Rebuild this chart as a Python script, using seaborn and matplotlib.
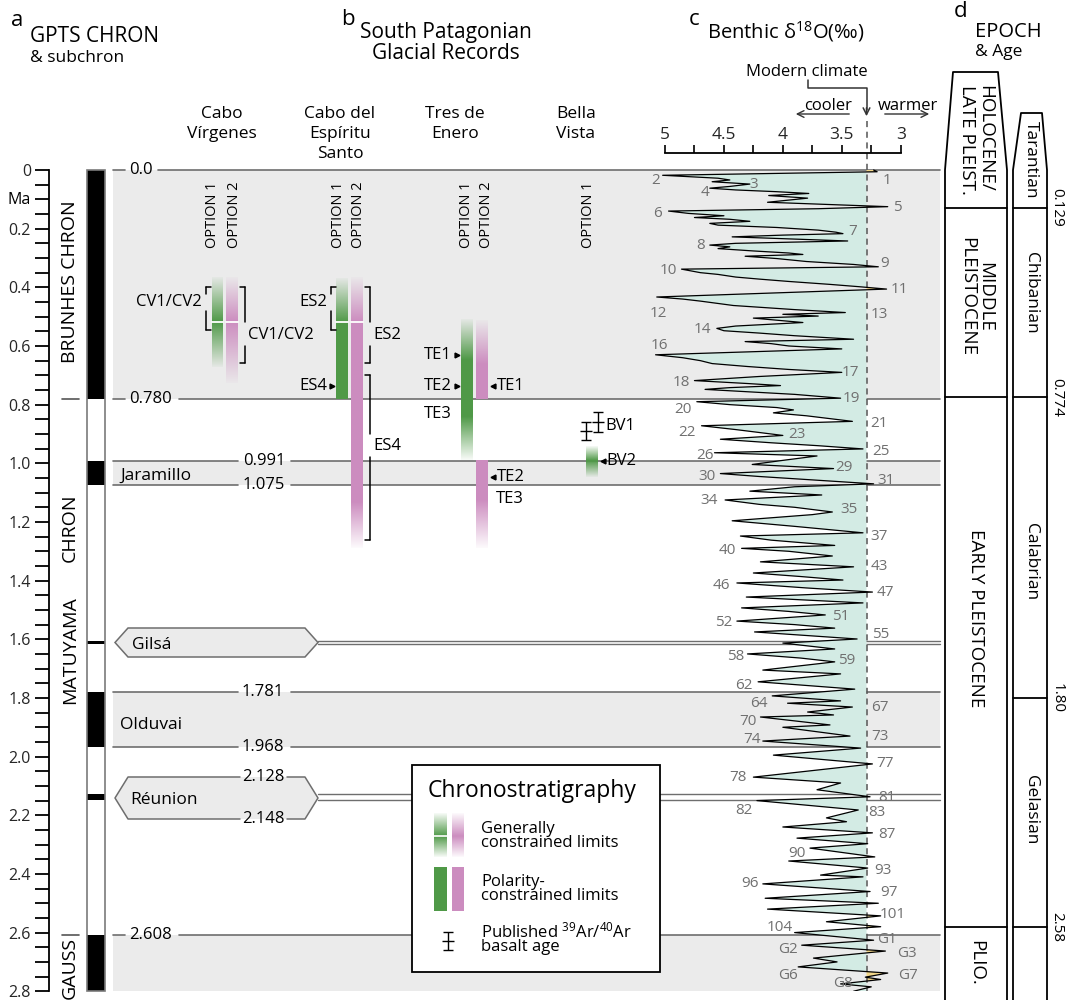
import numpy as np
import pandas as pd
import matplotlib
matplotlib.use("Agg")
import matplotlib.pyplot as plt
import seaborn as sns
from matplotlib.patches import Polygon, Rectangle

# ------------------------------------------------------------------ DATA
# (a) GPTS normal-polarity intervals (Ma)
normal_start = [0.000, 0.991, 1.606, 1.781, 2.128, 2.608]
normal_end = [0.780, 1.075, 1.616, 1.968, 2.148, 2.800]
# grey bands (normal polarity chrons / subchrons)
band_start = [0.000, 0.991, 1.781, 2.608]
band_end = [0.780, 1.075, 1.968, 2.800]
boundary_ages = [0.0, 0.780, 0.991, 1.075, 1.781, 1.968, 2.608]
boundary_labels = ["0.0", "0.780", "0.991", "1.075", "1.781", "1.968", "2.608"]
subchron_names = ["Jaramillo", "Gilsá", "Olduvai", "Réunion"]

# (b) South Patagonian glacial records
sites = ["Cabo\nVírgenes", "Cabo del\nEspíritu\nSanto", "Tres de\nEnero", "Bella\nVista"]
bar_site = [0, 0, 1, 1, 2, 2, 2, 3]
bar_option = [1, 2, 1, 2, 1, 2, 2, 1]
bar_top = [0.368, 0.368, 0.368, 0.368, 0.511, 0.511, 0.990, 0.944]
bar_solid_top = [0.518, 0.518, 0.518, 0.518, 0.648, 0.660, 0.990, 0.992]
bar_solid_bot = [0.518, 0.518, 0.780, 1.135, 0.842, 0.780, 1.125, 0.992]
bar_bottom = [0.672, 0.726, 0.780, 1.290, 0.989, 0.780, 1.290, 1.047]
bar_divider = [0.518, 0.518, 0.518, 0.518, None, None, None, None]
bv1_age = [0.890, 0.859]
bv1_err = [0.031, 0.034]

# (c) benthic d18O stack (age Ma, permil)
curve_age = [0.000, 0.006, 0.018, 0.028, 0.034, 0.040, 0.048, 0.056, 0.062, 0.068,
             0.074, 0.080, 0.087, 0.096, 0.110, 0.125, 0.132, 0.140, 0.148, 0.156,
             0.162, 0.168, 0.175, 0.182, 0.188, 0.196, 0.205, 0.212, 0.217, 0.222,
             0.228, 0.234, 0.242, 0.250, 0.256, 0.262, 0.268, 0.276, 0.283, 0.288,
             0.294, 0.302, 0.312, 0.322, 0.330, 0.338, 0.350, 0.356, 0.365, 0.372,
             0.380, 0.390, 0.398, 0.406, 0.433, 0.440, 0.447, 0.455, 0.462,
             0.468, 0.476, 0.486, 0.492, 0.498, 0.505, 0.512, 0.520, 0.532, 0.540,
             0.548, 0.556, 0.565, 0.577, 0.585, 0.592, 0.600, 0.610, 0.630, 0.640,
             0.650, 0.660, 0.670, 0.680, 0.690, 0.704, 0.718, 0.728, 0.735, 0.742,
             0.748, 0.756, 0.765, 0.778, 0.790, 0.800, 0.810, 0.818, 0.828, 0.838,
             0.857, 0.872, 0.885, 0.895, 0.905, 0.918, 0.930, 0.940, 0.951, 0.964,
             0.975, 0.990, 1.004, 1.018, 1.035, 1.045, 1.058, 1.070, 1.080, 1.095,
             1.108, 1.125, 1.140, 1.150, 1.166, 1.175, 1.196, 1.215, 1.237, 1.248,
             1.262, 1.280, 1.290, 1.300, 1.316, 1.336, 1.353, 1.374, 1.386, 1.398,
             1.408, 1.425, 1.439, 1.456, 1.476, 1.493, 1.505, 1.517, 1.538, 1.550,
             1.562, 1.575, 1.599, 1.613, 1.633, 1.650, 1.664, 1.677, 1.705, 1.718,
             1.745, 1.770, 1.793, 1.810, 1.818, 1.831, 1.848, 1.858, 1.865, 1.892,
             1.900, 1.930, 1.947, 1.971, 1.995, 2.025, 2.070, 2.090, 2.113, 2.137,
             2.150, 2.182, 2.209, 2.222, 2.240, 2.260, 2.278, 2.297, 2.312, 2.342,
             2.356, 2.380, 2.404, 2.410, 2.434, 2.460, 2.483, 2.500, 2.520, 2.543,
             2.563, 2.580, 2.600, 2.626, 2.643, 2.663, 2.687, 2.700, 2.717, 2.738,
             2.752, 2.760, 2.775, 2.785, 2.800]
curve_d18o = [3.23, 3.20, 5.02, 4.55, 4.45, 4.60, 4.28, 4.45, 4.62, 4.40,
              4.05, 3.78, 4.12, 3.79, 4.13, 3.11, 3.70, 4.97, 4.80, 4.50,
              4.75, 4.45, 4.28, 4.62, 4.55, 4.05, 3.70, 3.55, 3.49, 4.00,
              4.43, 4.00, 3.45, 4.40, 4.62, 4.45, 4.55, 4.25, 3.95, 3.83,
              4.32, 4.05, 3.80, 3.40, 3.19, 4.86, 4.70, 4.55, 4.40, 4.20,
              3.95, 3.60, 3.35, 3.12, 5.07, 4.85, 4.70, 4.55, 4.42,
              4.20, 3.90, 3.47, 4.00, 3.70, 4.25, 4.05, 3.83, 4.40, 4.56,
              4.50, 4.20, 3.90, 3.40, 4.32, 4.10, 3.95, 3.50, 5.08, 4.85,
              4.70, 4.60, 4.30, 3.95, 3.50, 4.20, 4.75, 4.30, 4.02, 4.45,
              4.66, 4.30, 3.90, 3.51, 4.73, 4.45, 4.05, 3.91, 4.08, 3.80,
              3.41, 4.69, 4.40, 4.20, 4.00, 4.53, 4.10, 3.70, 3.32, 4.58,
              3.71, 4.00, 4.26, 3.57, 4.53, 4.20, 3.70, 3.23, 3.90, 4.28,
              3.67, 4.49, 4.20, 3.90, 3.58, 3.75, 4.43, 3.90, 3.32, 4.36,
              4.10, 3.56, 4.35, 3.95, 3.58, 4.19, 3.40, 4.25, 3.85, 3.49,
              4.39, 3.80, 3.24, 4.31, 3.32, 4.35, 3.95, 3.64, 4.39, 3.90,
              3.56, 4.24, 3.37, 4.00, 3.56, 4.30, 3.85, 3.56, 4.17, 3.51,
              4.21, 3.39, 4.09, 3.51, 3.96, 3.41, 3.79, 3.57, 4.19, 3.60,
              4.00, 3.43, 4.17, 3.34, 4.08, 3.24, 4.25, 3.51, 3.71, 3.26,
              4.22, 3.36, 3.63, 3.46, 4.00, 3.24, 3.88, 3.28, 3.77, 3.22,
              3.95, 3.28, 3.68, 3.32, 4.17, 3.26, 4.15, 3.19, 4.13, 3.17,
              3.63, 3.17, 3.90, 3.23, 3.84, 3.13, 3.74, 3.54, 3.87, 3.11,
              3.30, 3.17, 3.51, 3.25, 3.40]
modern_d18o = 3.29
mis_text = ["1", "2", "3", "4", "5", "6", "7", "8", "9", "10", "11", "12", "13", "14",
            "16", "17", "18", "19", "20", "21", "22", "23", "25", "26", "29", "30", "31",
            "34", "35", "37", "40", "43", "46", "47", "51", "52", "55", "58", "59", "62",
            "64", "67", "70", "73", "74", "77", "78", "81", "82", "83", "87", "90", "93",
            "96", "97", "101", "104", "G1", "G2", "G3", "G6", "G7", "G8"]
mis_lab_d = [3.12, 5.08, 4.25, 4.66, 3.03, 5.06, 3.41, 4.70, 3.14, 4.97, 3.01, 5.06, 3.18, 4.68,
             5.05, 3.43, 4.86, 3.42, 4.85, 3.18, 4.81, 3.88, 3.17, 4.66, 3.48, 4.64, 3.12,
             4.63, 3.44, 3.18, 4.47, 3.18, 4.52, 3.13, 3.51, 4.50, 3.17, 4.40, 3.46, 4.33,
             4.20, 3.18, 4.30, 3.18, 4.26, 3.13, 4.38, 3.12, 4.33, 3.20, 3.12, 3.88, 3.15,
             4.28, 3.10, 3.07, 4.03, 3.12, 3.96, 2.95, 3.96, 2.94, 3.49]
mis_lab_age = [0.037, 0.037, 0.051, 0.078, 0.129, 0.150, 0.208, 0.259, 0.320, 0.341, 0.406, 0.488, 0.491, 0.545,
               0.597, 0.692, 0.725, 0.778, 0.818, 0.863, 0.896, 0.903, 0.961, 0.972, 1.016, 1.046, 1.060,
               1.128, 1.159, 1.248, 1.298, 1.353, 1.418, 1.439, 1.524, 1.544, 1.585, 1.660, 1.674, 1.756,
               1.820, 1.831, 1.879, 1.933, 1.940, 2.025, 2.070, 2.141, 2.185, 2.192, 2.267, 2.329, 2.390,
               2.434, 2.465, 2.540, 2.581, 2.625, 2.659, 2.673, 2.748, 2.748, 2.772]

# (d) epochs & ages
epoch_bounds = [0.129, 0.774, 2.58]
stage_bounds = [0.129, 0.774, 1.80, 2.58]
stage_bound_labels = ["0.129", "0.774", "1.80", "2.58"]
epoch_names = ["HOLOCENE/\nLATE PLEIST.", "MIDDLE\nPLEISTOCENE", "EARLY PLEISTOCENE", "PLIO."]
stage_names = ["Tarantian", "Chibanian", "Calabrian", "Gelasian"]

# ------------------------------------------------------------------ STYLE / LAYOUT
sns.set_theme(style="white")
plt.rcParams["font.family"] = ["Open Sans", "DejaVu Sans"]
plt.rcParams["mathtext.fontset"] = "custom"
plt.rcParams["mathtext.rm"] = "Open Sans"
plt.rcParams["mathtext.it"] = "Open Sans"
plt.rcParams["mathtext.bf"] = "Open Sans"
plt.rcParams["text.color"] = "black"

W, H = 1070, 1000
Y0, PXMA = 170.0, 293.3
GREEN = (0.31, 0.60, 0.28)
PINK = (0.80, 0.55, 0.75)
BAND = "#ebebeb"
LINEC = "#6e6e6e"
TEAL = "#d3ebe4"
YEL = "#f1d689"


def A(py):
    return (py - Y0) / PXMA


def dpx(px):
    return 5 - (px - 665) / 117.85


fig = plt.figure(figsize=(W / 100, H / 100), dpi=100)
ax = fig.add_axes([0, 0, 1, 1])
ax.axis("off")


def T(x, py, s, size=12, ha="left", va="baseline", **kw):
    return ax.text(x, A(py), s, fontsize=size, ha=ha, va=va, **kw)


# ---------------- headers
T(11, 26, "a", 16)
T(30, 42, "GPTS CHRON", 15)
T(30, 62, "& subchron", 12.5)
T(341, 25, "b", 16)
T(446, 38, "South Patagonian", 15, ha="center")
T(446, 59, "Glacial Records", 15, ha="center")
T(689, 25, "c", 16)
T(707, 38, r"Benthic δ$^{18}$O(‰)", 14.5)
T(954, 17, "d", 16)
T(975, 37, "EPOCH", 14.5)
T(975, 56, "& Age", 12.5)

# site headers
site_x = [222, 340, 455, 576]
for sx, name in zip(site_x, sites):
    for i, line in enumerate(name.split("\n")):
        T(sx, 118 + 20 * i, line, 12.5, ha="center")

# option labels
opt_x = {(0, 1): 213, (0, 2): 234, (1, 1): 338, (1, 2): 358,
         (2, 1): 467, (2, 2): 487, (3, 1): 589}
for (s, o), xx in opt_x.items():
    T(xx, 215, f"OPTION {o}", 10.5, ha="center", va="center", rotation=90)

# ---------------- grey bands and boundary lines
for s, e in zip(band_start, band_end):
    ax.fill_between([113, 940], s, e, color=BAND, lw=0, zorder=0)

blab_x = [141, 151, 264, 264, 263, 263, 151]
blab_gap = [(125, 158), (125, 179), (238, 291), (238, 291), (238, 291), (238, 291), (125, 179)]
for age, lab, lx, (g0, g1) in zip(boundary_ages, boundary_labels, blab_x, blab_gap):
    ax.plot([113, g0], [age, age], color=LINEC, lw=1.2, zorder=1)
    ax.plot([g1, 940], [age, age], color=LINEC, lw=1.2, zorder=1)
    ax.text(lx, age, lab, fontsize=12, ha="center", va="center", zorder=2)


# hexagon label boxes for short subchrons
def hexagon(ptop, pbot, gap_labels=None):
    pm = (ptop + pbot) / 2
    pts = [(115, A(pm)), (128, A(ptop)), (305, A(ptop)), (318, A(pm)),
           (305, A(pbot)), (128, A(pbot))]
    ax.add_patch(Polygon(pts, closed=True, fc=BAND, ec="none", zorder=1))
    if gap_labels is None:
        ax.add_patch(Polygon(pts, closed=True, fill=False, ec=LINEC, lw=1.1, zorder=2))
    else:
        top_lab, bot_lab = gap_labels
        ax.plot([240, 128, 115, 128, 240], [A(ptop), A(ptop), A(pm), A(pbot), A(pbot)],
                color=LINEC, lw=1.1, zorder=2)
        ax.plot([287, 305, 318, 305, 287], [A(ptop), A(ptop), A(pm), A(pbot), A(pbot)],
                color=LINEC, lw=1.1, zorder=2)
        ax.text(263, A(ptop), top_lab, fontsize=12, ha="center", va="center", zorder=3)
        ax.text(263, A(pbot), bot_lab, fontsize=12, ha="center", va="center", zorder=3)


hexagon(628, 657)
hexagon(777, 819, ("2.128", "2.148"))
for i in (2, 4):
    for a in (normal_start[i], normal_end[i]):
        ax.plot([318, 940], [a, a], color=LINEC, lw=1.0, zorder=1)

T(120, 476, subchron_names[0], 12.5, va="center")
T(132, 645, subchron_names[1], 12.5, va="center")
T(120, 725, subchron_names[2], 12.5, va="center")
T(130, 800, subchron_names[3], 12.5, va="center")

# ---------------- polarity column
ax.bar([96] * len(normal_start), np.subtract(normal_end, normal_start),
       bottom=normal_start, width=18, color="black", lw=0, zorder=3)
ax.add_patch(Rectangle((87, 0), 18, 2.8, fill=False, ec="#7a7a7a", lw=1.2, zorder=4))
T(70, 282, "BRUNHES CHRON", 14, ha="center", va="center", rotation=90)
T(70, 528, "CHRON", 14, ha="center", va="center", rotation=90)
T(70, 650, "MATUYAMA", 14, ha="center", va="center", rotation=90)
T(70, 968, "GAUSS", 14, ha="center", va="center", rotation=90)
for a in (0.780, 2.608):
    ax.plot([62, 79], [a, a], color="#555555", lw=1.2)

# left age axis
axl = fig.add_axes([49 / W, 0, 0.0005, 1])
axl.set_ylim(A(H), A(0))
axl.patch.set_alpha(0)
for sp in ("top", "right", "bottom"):
    axl.spines[sp].set_visible(False)
axl.spines["left"].set_bounds(0, 2.8)
axl.spines["left"].set_color("black")
axl.spines["left"].set_linewidth(1.3)
maj = np.round(np.arange(0, 2.81, 0.2), 2)
axl.set_yticks(maj)
axl.set_yticklabels(["0" if v == 0 else f"{v:.1f}" for v in maj])
axl.set_yticks(np.round(np.arange(0, 2.81, 0.05), 2), minor=True)
axl.set_xticks([])
axl.tick_params(axis="y", which="both", direction="out", length=10, width=1.3,
                color="black", pad=3, labelsize=11.5, left=True)
T(31, 200, "Ma", 11.5, ha="right", va="center")


# ---------------- panel b bars
def grad_bar(x0, x1, top, stop, sbot, bottom, color, a_end=0.04, z=4):
    ys = np.linspace(top, bottom, 400)
    alpha = np.ones_like(ys)
    if stop > top:
        m = ys < stop
        alpha[m] = a_end + (1 - a_end) * (ys[m] - top) / (stop - top)
    if bottom > sbot:
        m = ys > sbot
        alpha[m] = 1 - (1 - a_end) * (ys[m] - sbot) / (bottom - sbot)
    img = np.zeros((len(ys), 1, 4))
    img[..., :3] = color
    img[:, 0, 3] = alpha
    ax.imshow(img, extent=(x0, x1, bottom, top), aspect="auto", origin="upper",
              interpolation="bilinear", zorder=z)


bar_x = {(0, 1): (212, 223), (0, 2): (226, 238), (1, 1): (336, 348), (1, 2): (351, 363),
         (2, 1): (461, 473), (2, 2): (476, 488), (3, 1): (586, 598)}
for s, o, t, st, sb, b, dv in zip(bar_site, bar_option, bar_top, bar_solid_top,
                                  bar_solid_bot, bar_bottom, bar_divider):
    x0, x1 = bar_x[(s, o)]
    grad_bar(x0, x1, t, st, sb, b, GREEN if o == 1 else PINK)
    if dv is not None:
        ax.plot([x0, x1], [dv, dv], color="white", lw=1.3, zorder=5)

ax.errorbar([586, 598], bv1_age, yerr=bv1_err, fmt="_", ms=8, capsize=3.5,
            color="black", lw=1.0, capthick=1.0, zorder=6)


def bracket(x, ptop, pbot, side, gap=None):
    c = 5 if side == "left" else -5
    segs = [(ptop, pbot)] if gap is None else [(ptop, gap[0]), (gap[1], pbot)]
    for a, b in segs:
        ax.plot([x, x], [A(a), A(b)], color="black", lw=1.1, zorder=5)
    ax.plot([x, x + c], [A(ptop), A(ptop)], color="black", lw=1.1, zorder=5)
    ax.plot([x, x + c], [A(pbot), A(pbot)], color="black", lw=1.1, zorder=5)


bracket(206, 287, 330, "left", (294, 311))
bracket(245, 287, 363, "right", (322, 346))
bracket(331, 287, 330, "left", (294, 311))
bracket(370, 287, 363, "right", (322, 346))
bracket(370, 375, 540, "right", (434, 457))

b_labels = [("CV1/CV2", 202, 302, "right", None), ("CV1/CV2", 248, 335, "left", None),
            ("ES2", 327, 302, "right", None), ("ES2", 373, 335, "left", None),
            ("ES4", 327, 386, "right", (332, ">")), ("ES4", 373, 446, "left", None),
            ("TE1", 452, 355, "right", (457, ">")), ("TE2", 452, 386, "right", (457, ">")),
            ("TE3", 452, 414, "right", None), ("TE1", 497, 386, "left", (493, "<")),
            ("TE2", 497, 477, "left", (493, "<")), ("TE3", 496, 499, "left", None),
            ("BV1", 605, 426, "left", None), ("BV2", 606, 461, "left", (603, "<"))]
for txt, lx, py, ha, tri in b_labels:
    T(lx, py, txt, 12, ha=ha, va="center", zorder=6)
    if tri is not None:
        ax.plot(tri[0], A(py), marker=tri[1], ms=3.5, color="black", zorder=6)

# ---------------- legend
ax.add_patch(Rectangle((412, A(765)), 248, A(972) - A(765), fc="white", ec="black",
                       lw=1.3, zorder=7))
T(428, 797, "Chronostratigraphy", 16.5, zorder=8)
grad_bar(434, 447, A(813), A(836), A(836), A(857), GREEN, z=8)
grad_bar(452, 464, A(813), A(836), A(836), A(857), PINK, z=8)
ax.plot([434, 447], [A(836), A(836)], color="white", lw=1.2, zorder=9)
grad_bar(434, 447, A(867), A(867), A(911), A(911), GREEN, z=8)
grad_bar(452, 464, A(867), A(867), A(911), A(911), PINK, z=8)
ax.errorbar([448], [A(941)], yerr=[A(950) - A(941)], fmt="_", ms=8, capsize=3.5,
            color="black", lw=1.0, capthick=1.0, zorder=9)
T(481, 833, "Generally", 12, zorder=8)
T(481, 847, "constrained limits", 12, zorder=8)
T(481, 886, "Polarity-", 12, zorder=8)
T(481, 900, "constrained limits", 12, zorder=8)
T(481, 937, r"Published $^{39}$Ar/$^{40}$Ar", 12, zorder=8)
T(481, 951, "basalt age", 12, zorder=8)

# ---------------- panel c benthic curve
ybot_px = Y0 + 2.8 * PXMA
axb = fig.add_axes([640 / W, 1 - ybot_px / H, 300 / W, (ybot_px - 153) / H])
axb.patch.set_alpha(0)
d = np.array(curve_d18o)
ag = np.array(curve_age)
axb.fill_betweenx(ag, d, modern_d18o, where=d >= modern_d18o, interpolate=True,
                  color=TEAL, lw=0, zorder=1)
axb.fill_betweenx(ag, d, modern_d18o, where=d <= modern_d18o, interpolate=True,
                  color=YEL, lw=0, zorder=1)
df = pd.DataFrame({"age": ag, "d18O": d})
sns.lineplot(data=df, x="d18O", y="age", orient="y", sort=False, estimator=None,
             color="black", lw=0.9, ax=axb, zorder=3)
axb.plot([modern_d18o, modern_d18o], [A(121), 2.8], ls=(0, (4, 3)), color="#555555",
         lw=1.1, clip_on=False, zorder=2)
for t, xd, ya in zip(mis_text, mis_lab_d, mis_lab_age):
    axb.text(xd, ya, t, fontsize=11, color="#707070", ha="center", va="center",
             clip_on=False, zorder=4)
axb.set_xlim(dpx(640), dpx(940))
axb.set_ylim(2.8, A(153))
axb.set_xlabel("")
axb.set_ylabel("")
for sp in ("left", "right", "bottom"):
    axb.spines[sp].set_visible(False)
axb.spines["top"].set_bounds(5, 3)
axb.spines["top"].set_color("black")
axb.spines["top"].set_linewidth(1.3)
axb.xaxis.tick_top()
axb.set_xticks([5, 4.5, 4, 3.5, 3])
axb.set_xticklabels(["5", "4.5", "4", "3.5", "3"])
axb.set_xticks([4.75, 4.25, 3.75, 3.25], minor=True)
axb.set_yticks([])
axb.tick_params(axis="x", which="both", direction="out", length=6, width=1.2,
                color="black", pad=1, labelsize=12.5, top=True, bottom=False)

# modern climate annotation
T(807, 76, "Modern climate", 12, ha="center")
ax.plot([808, 808, 866.5, 866.5], [A(80), A(88), A(88), A(110)], color="#333333", lw=1.1)
ax.annotate("", xy=(866.5, A(119)), xytext=(866.5, A(105)),
            arrowprops=dict(arrowstyle="->", color="#333333", lw=1.1))
T(828, 110, "cooler", 12, ha="center")
T(908, 110, "warmer", 12, ha="center")
ax.annotate("", xy=(793, A(114)), xytext=(852, A(114)),
            arrowprops=dict(arrowstyle="->", color="#333333", lw=1.0))
ax.annotate("", xy=(932, A(114)), xytext=(882, A(114)),
            arrowprops=dict(arrowstyle="->", color="#333333", lw=1.0))

# ---------------- panel d epochs
BOT = A(H)
ax.plot([945, 945, 953, 998, 1007, 1007], [BOT, 0, A(72), A(72), 0, BOT], color="black", lw=1.3)
ax.plot([1013, 1013, 1021, 1042, 1047, 1047], [BOT, 0, A(113), A(113), 0, BOT],
        color="black", lw=1.3)
for a in epoch_bounds:
    ax.plot([945, 1007], [a, a], color="black", lw=1.3)
for a, lab in zip(stage_bounds, stage_bound_labels):
    ax.plot([1013, 1047], [a, a], color="black", lw=1.3)
    ax.text(1057, a, lab, fontsize=11, rotation=270, ha="center", va="center")
epoch_y = [140, 297, 618, 963]
epoch_ma = ["left", "center", "center", "center"]
for name, py, ma in zip(epoch_names, epoch_y, epoch_ma):
    T(976, py, name, 13.5, ha="center", va="center", rotation=270,
      multialignment=ma, linespacing=0.95)
stage_y = [160, 293, 562, 810]
for name, py in zip(stage_names, stage_y):
    T(1031, py, name, 12.5, ha="center", va="center", rotation=270)

ax.set_xlim(0, W)
ax.set_ylim(A(H), A(0))
fig.savefig("out.png", dpi=100)
